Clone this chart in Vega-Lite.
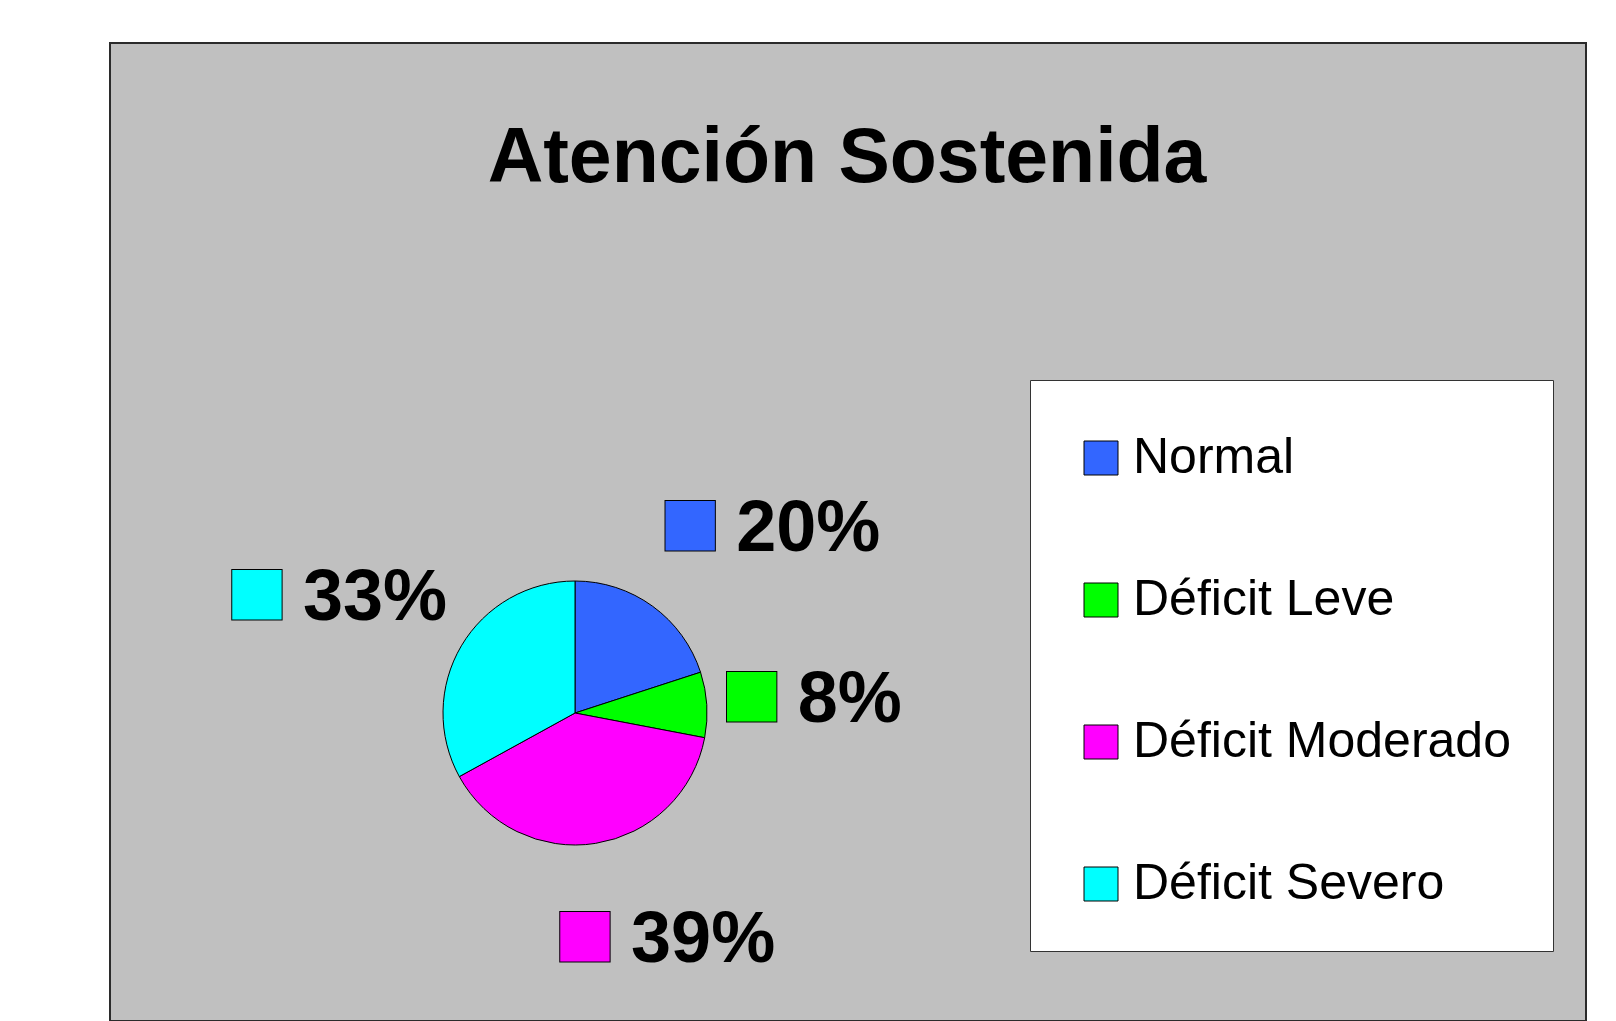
{
  "$schema": "https://vega.github.io/schema/vega-lite/v6.json",
  "width": 1476,
  "height": 978,
  "autosize": {"type": "none"},
  "padding": {"left": 110, "top": 43, "right": 30, "bottom": 0},
  "background": "white",
  "view": {"fill": "#c0c0c0", "stroke": "#2b2b2b", "strokeWidth": 2},
  "title": {
    "text": "Atención Sostenida",
    "font": "Liberation Sans",
    "fontSize": 77,
    "fontWeight": "bold",
    "color": "black",
    "anchor": "middle",
    "frame": "group",
    "orient": "top",
    "offset": -216,
    "baseline": "alphabetic",
    "dx": -1
  },
  "data": {
    "values": [
      {"categoria": "Normal", "valor": 0.20, "orden": 1},
      {"categoria": "Déficit Leve", "valor": 0.08, "orden": 2},
      {"categoria": "Déficit Moderado", "valor": 0.39, "orden": 3},
      {"categoria": "Déficit Severo", "valor": 0.33, "orden": 4}
    ]
  },
  "encoding": {
    "theta": {"field": "valor", "type": "quantitative", "stack": true},
    "order": {"field": "orden", "type": "ordinal"},
    "color": {
      "field": "categoria",
      "type": "nominal",
      "scale": {
        "domain": ["Normal", "Déficit Leve", "Déficit Moderado", "Déficit Severo"],
        "range": ["#3366ff", "#00ff00", "#ff00ff", "#00ffff"]
      },
      "legend": {
        "title": " ",
        "titleFontSize": 1,
        "titlePadding": 10,
        "orient": "none",
        "legendX": 920,
        "legendY": 337,
        "direction": "vertical",
        "fillColor": "white",
        "strokeColor": "#333333",
        "padding": 42,
        "symbolOffset": 4,
        "symbolType": "square",
        "symbolSize": 1156,
        "symbolStrokeColor": "black",
        "symbolStrokeWidth": 1,
        "symbolOpacity": 1,
        "labelFont": "Liberation Sans",
        "labelFontSize": 50,
        "labelColor": "black",
        "labelOffset": 7,
        "labelLimit": 0,
        "rowPadding": 92
      }
    }
  },
  "layer": [
    {
      "mark": {"type": "arc", "x": 465, "y": 670, "outerRadius": 132, "stroke": "black", "strokeWidth": 1, "opacity": 1}
    },
    {
      "mark": {
        "type": "text", "x": 465, "y": 670, "radius": 150, "text": "■", "font": "DejaVu Sans", "fontSize": 66,
        "align": "center", "baseline": "middle", "stroke": "black", "strokeWidth": 1,
        "dx": {"expr": "108*(clamp(4*sin(PI*(datum.valor_start+datum.valor_end)),-1,1)-1)+27"},
        "dy": {"expr": "-78.5*cos(PI*(datum.valor_start+datum.valor_end))-5"}
      }
    },
    {
      "mark": {
        "type": "text", "x": 465, "y": 670, "radius": 150, "font": "Liberation Sans", "fontWeight": "bold", "fontSize": 72,
        "align": "left", "baseline": "middle",
        "dx": {"expr": "108*(clamp(4*sin(PI*(datum.valor_start+datum.valor_end)),-1,1)-1)+73"},
        "dy": {"expr": "-78.5*cos(PI*(datum.valor_start+datum.valor_end))+1"}
      },
      "encoding": {
        "text": {"field": "valor", "type": "quantitative", "format": ".0%"},
        "color": {"value": "black"}
      }
    }
  ]
}
